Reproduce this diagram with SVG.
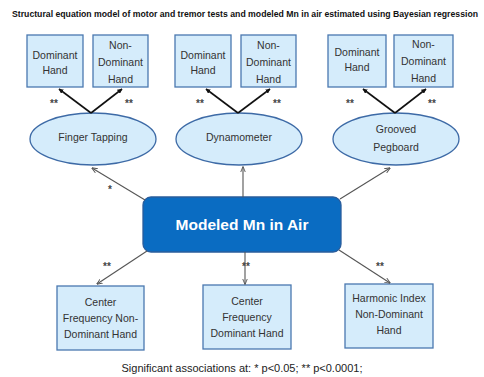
<svg xmlns="http://www.w3.org/2000/svg" width="484" height="377" viewBox="0 0 484 377">
<defs>
<style>
.bg{fill:#ffffff}
.title{font-family:"Liberation Sans",Arial,sans-serif;font-weight:bold;font-size:8.7px;fill:#111}
.box rect{fill:#d5ecfb;stroke:#4a78b0;stroke-width:1.3}
.ell ellipse{fill:#d5ecfb;stroke:#3d6aa6;stroke-width:1.3}
.lbl{font-family:"Liberation Sans",Arial,sans-serif;font-size:10.5px;fill:#333;text-anchor:middle}
.star{font-family:"Liberation Sans",Arial,sans-serif;font-size:10px;font-weight:bold;fill:#444;text-anchor:middle}
.k{stroke:#111;stroke-width:1.6;fill:none;marker-end:url(#ak)}
.g{stroke:#555;stroke-width:1.1;fill:none;marker-end:url(#ag)}
.main rect{fill:#0a6cc2;stroke:#2a5d9c;stroke-width:1.3}
.mainlbl{font-family:"Liberation Sans",Arial,sans-serif;font-size:15.5px;font-weight:bold;fill:#fff;text-anchor:middle}
.foot{font-family:"Liberation Sans",Arial,sans-serif;font-size:11px;fill:#222;text-anchor:middle}
</style>
<marker id="ak" viewBox="0 0 10 10" refX="9" refY="5" markerWidth="5" markerHeight="5" orient="auto" markerUnits="userSpaceOnUse"><path d="M0,0 L10,5 L0,10 Z" fill="#111"/></marker>
<marker id="ag" viewBox="0 0 10 10" refX="9" refY="5" markerWidth="6" markerHeight="6" orient="auto" markerUnits="userSpaceOnUse"><path d="M0,1 L10,5 L0,9" fill="none" stroke="#555" stroke-width="1.5"/></marker>
</defs>
<rect class="bg" x="0" y="0" width="484" height="377"/>
<text class="title" x="12" y="17" textLength="466" lengthAdjust="spacingAndGlyphs">Structural equation model of motor and tremor tests and modeled Mn in air estimated using Bayesian regression</text>

<g id="ft-dom" class="box"><rect x="27" y="35" width="56" height="52"/><text class="lbl" x="55" y="59">Dominant</text><text class="lbl" x="55" y="74">Hand</text></g>
<g id="ft-nondom" class="box"><rect x="93" y="35" width="55" height="52"/><text class="lbl" x="120.5" y="49">Non-</text><text class="lbl" x="120.5" y="66">Dominant</text><text class="lbl" x="120.5" y="83">Hand</text></g>
<g id="dy-dom" class="box"><rect x="175" y="35" width="56" height="52"/><text class="lbl" x="203" y="59">Dominant</text><text class="lbl" x="203" y="74">Hand</text></g>
<g id="dy-nondom" class="box"><rect x="241" y="35" width="55" height="52"/><text class="lbl" x="268.5" y="49">Non-</text><text class="lbl" x="268.5" y="66">Dominant</text><text class="lbl" x="268.5" y="83">Hand</text></g>
<g id="gp-dom" class="box"><rect x="328" y="35" width="58" height="52"/><text class="lbl" x="357" y="56">Dominant</text><text class="lbl" x="357" y="71">Hand</text></g>
<g id="gp-nondom" class="box"><rect x="394" y="35" width="59" height="52"/><text class="lbl" x="423.5" y="48">Non-</text><text class="lbl" x="423.5" y="65">Dominant</text><text class="lbl" x="423.5" y="82">Hand</text></g>

<g id="finger-tapping" class="ell"><ellipse cx="93" cy="139" rx="63" ry="26"/><text class="lbl" x="93" y="141">Finger Tapping</text></g>
<g id="dynamometer" class="ell"><ellipse cx="239" cy="139" rx="63" ry="26"/><text class="lbl" x="239" y="141">Dynamometer</text></g>
<g id="grooved-pegboard" class="ell"><ellipse cx="396" cy="139" rx="63" ry="26"/><text class="lbl" x="396" y="133">Grooved</text><text class="lbl" x="396" y="151">Pegboard</text></g>

<g id="modeled-mn" class="main"><rect x="143" y="197" width="198" height="55" rx="8" ry="8"/><text class="mainlbl" x="242" y="230">Modeled Mn in Air</text></g>

<g id="cf-nondom" class="box"><rect x="57" y="286" width="87" height="64"/><text class="lbl" x="100.5" y="306">Center</text><text class="lbl" x="100.5" y="322">Frequency Non-</text><text class="lbl" x="100.5" y="338">Dominant Hand</text></g>
<g id="cf-dom" class="box"><rect x="203" y="285" width="88" height="64"/><text class="lbl" x="247" y="305">Center</text><text class="lbl" x="247" y="321">Frequency</text><text class="lbl" x="247" y="337">Dominant Hand</text></g>
<g id="hi-nondom" class="box"><rect x="345" y="284" width="88" height="64"/><text class="lbl" x="389" y="302">Harmonic Index</text><text class="lbl" x="389" y="318">Non-Dominant</text><text class="lbl" x="389" y="334">Hand</text></g>

<g id="connectors">
<line class="k" x1="91" y1="113" x2="59" y2="89"/>
<line class="k" x1="91" y1="113" x2="122" y2="89"/>
<line class="k" x1="238" y1="113" x2="206" y2="89"/>
<line class="k" x1="238" y1="113" x2="270" y2="89"/>
<line class="k" x1="395" y1="113" x2="363" y2="89"/>
<line class="k" x1="395" y1="113" x2="426" y2="89"/>
<line class="g" x1="145" y1="200" x2="92" y2="168"/>
<line class="g" x1="243" y1="197" x2="243" y2="167"/>
<line class="g" x1="340" y1="199" x2="390" y2="168"/>
<line class="g" x1="147" y1="251" x2="97" y2="284"/>
<line class="g" x1="245" y1="252" x2="245" y2="284"/>
<line class="g" x1="339" y1="250" x2="390" y2="283"/>
</g>
<g id="sig">
<text class="star" x="54" y="107">**</text>
<text class="star" x="129" y="107">**</text>
<text class="star" x="200" y="107">**</text>
<text class="star" x="277" y="107">**</text>
<text class="star" x="350" y="107">**</text>
<text class="star" x="432" y="107">**</text>
<text class="star" x="110" y="193">*</text>
<text class="star" x="107" y="270">**</text>
<text class="star" x="246" y="270">**</text>
<text class="star" x="380" y="270">**</text>
</g>
<text class="foot" x="242" y="372">Significant associations at: * p&lt;0.05; ** p&lt;0.0001;</text>
</svg>
